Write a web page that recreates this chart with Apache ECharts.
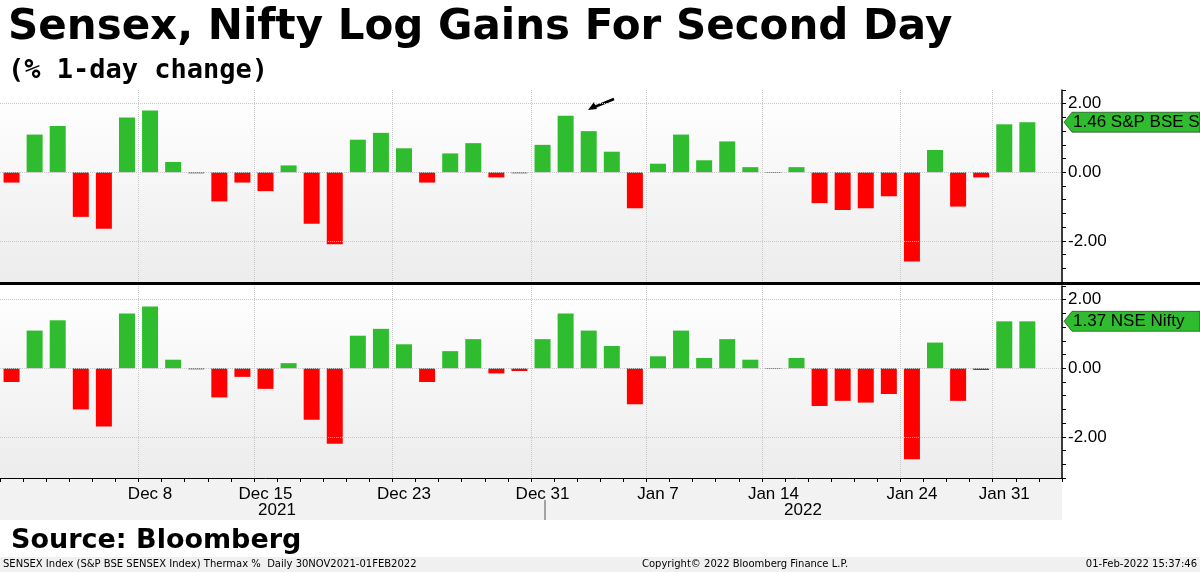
<!DOCTYPE html>
<html><head><meta charset="utf-8">
<script src="https://cdn.jsdelivr.net/npm/echarts@6/dist/echarts.min.js"></script>
<style>body{margin:0;background:#fff}#c{width:1200px;height:572px}</style>
</head><body><div id="c"></div>
<script>
const dates = ['Nov 30','Dec 1','Dec 2','Dec 3','Dec 6','Dec 7','Dec 8','Dec 9','Dec 10','Dec 13','Dec 14','Dec 15','Dec 16','Dec 17','Dec 20','Dec 21','Dec 22','Dec 23','Dec 24','Dec 27','Dec 28','Dec 29','Dec 30','Dec 31','Jan 3','Jan 4','Jan 5','Jan 6','Jan 7','Jan 10','Jan 11','Jan 12','Jan 13','Jan 14','Jan 17','Jan 18','Jan 19','Jan 20','Jan 21','Jan 24','Jan 25','Jan 27','Jan 28','Jan 31','Feb 1'];
const sensex = [-0.3,1.1,1.35,-1.3,-1.65,1.6,1.8,0.3,-0.03,-0.85,-0.3,-0.55,0.2,-1.5,-2.1,0.95,1.15,0.7,-0.3,0.55,0.85,-0.15,-0.03,0.8,1.65,1.2,0.6,-1.05,0.25,1.1,0.35,0.9,0.15,-0.02,0.15,-0.9,-1.1,-1.05,-0.7,-2.6,0.65,-1.0,-0.15,1.4,1.46];
const nifty = [-0.4,1.1,1.4,-1.2,-1.7,1.6,1.8,0.25,-0.03,-0.85,-0.25,-0.6,0.15,-1.5,-2.2,0.95,1.15,0.7,-0.4,0.5,0.85,-0.15,-0.08,0.85,1.6,1.1,0.65,-1.05,0.35,1.1,0.3,0.85,0.25,-0.02,0.3,-1.1,-0.95,-1.0,-0.75,-2.65,0.75,-0.95,-0.05,1.37,1.37];
const shownLabels = ['Dec 8','Dec 15','Dec 23','Dec 31','Jan 7','Jan 14','Jan 24','Jan 31'];
const yTicks = [-2, 0, 2];

const cats = dates.concat(['']);
const GREEN = '#2fbd2f', RED = '#ff0000';
const showIdx = (i) => shownLabels.includes(cats[i]);

const bg = {type:'linear',x:0,y:0,x2:0,y2:1,colorStops:[{offset:0,color:'#ffffff'},{offset:1,color:'#ececec'}]};

const xAxis = (gi, labels) => ({
  type:'category', gridIndex:gi, data:cats, position:'bottom',
  axisLine:{show:labels, onZero:false, lineStyle:{color:'#000'}},
  axisTick:{show:labels, interval:0, length:4, lineStyle:{color:'#000'}},
  axisLabel:{show:labels, interval:(i)=>showIdx(i), color:'#000', fontSize:17, fontFamily:'Liberation Sans', margin:8},
  splitLine:{show:true, interval:(i)=>showIdx(i), lineStyle:{color:'#c8c8c8', type:'dotted'}}
});
const yAxis = (gi) => ({
  type:'value', gridIndex:gi, position:'right', min:-3.2, max:2.4, interval:0.4,
  axisLine:{show:true, lineStyle:{color:'#000', width:1.5}},
  axisTick:{show:true, length:4, lineStyle:{color:'#000'}},
  axisLabel:{color:'#000', fontSize:17, fontFamily:'Liberation Sans', margin:6,
    formatter:(v)=> yTicks.some(t=>Math.abs(t-v)<1e-6) ? v.toFixed(2) : ''},
  splitLine:{show:false}
});
const barSeries = (vals, gi) => ({
  type:'bar', xAxisIndex:gi, yAxisIndex:gi, barWidth:16,
  data: vals.map(v => ({value:v, itemStyle:{color: v >= 0 ? GREEN : RED}})),
  markLine:{silent:true, symbol:'none', label:{show:false},
    lineStyle:{color:'#c8c8c8', type:'dotted', width:1},
    data: yTicks.map(t => ({yAxis:t}))}
});

const chart = echarts.init(document.getElementById('c'));
chart.setOption({
  animation:false,
  backgroundColor:'#fff',
  title:[
    {text:'Sensex, Nifty Log Gains For Second Day', left:3, top:2, textStyle:{fontSize:42, fontWeight:'bold', fontFamily:'DejaVu Sans', color:'#000'}},
    {text:'(% 1-day change)', left:3, top:52, textStyle:{fontSize:27, fontWeight:'bold', fontFamily:'DejaVu Sans Mono', color:'#000'}},
    {text:'Source: Bloomberg', left:6, top:522, textStyle:{fontSize:27, fontWeight:'bold', fontFamily:'DejaVu Sans', color:'#000'}}
  ],
  grid:[
    {left:-3.3, right:138, top:90, height:192, show:true, backgroundColor:bg, borderWidth:0},
    {left:-3.3, right:138, top:286, height:192, show:true, backgroundColor:bg, borderWidth:0}
  ],
  xAxis:[xAxis(0,false), xAxis(1,true)],
  yAxis:[yAxis(0), yAxis(1)],
  series:[barSeries(sensex,0), barSeries(nifty,1)]
});

// annotations
const tag = (gi, val, text) => {
  const p = chart.convertToPixel({gridIndex:gi}, [0, val]);
  const x = 1064, y = p[1];
  return {type:'group', children:[
    {type:'polygon', shape:{points:[[x,y],[x+8,y-10],[1200,y-10],[1200,y+10],[x+8,y+10]]}, style:{fill:GREEN, stroke:'#000', lineWidth:0.5}},
    {type:'text', x:x+9, y:y, style:{text:text, fontSize:17, fontFamily:'Liberation Sans', fill:'#000', verticalAlign:'middle'}}
  ]};
};
chart.setOption({graphic:[
  {type:'rect', shape:{x:0,y:478,width:1062,height:42}, style:{fill:'#f2f2f2'}, z:-1},
  {type:'rect', shape:{x:0,y:282,width:1200,height:3}, style:{fill:'#000'}},
  {type:'text', x:277, y:502, style:{text:'2021', fontSize:17, fontFamily:'Liberation Sans', fill:'#000', align:'center'}},
  {type:'text', x:803, y:502, style:{text:'2022', fontSize:17, fontFamily:'Liberation Sans', fill:'#000', align:'center'}},
  {type:'line', shape:{x1:545,y1:500,x2:545,y2:520}, style:{stroke:'#555', lineWidth:1}},
  {type:'line', shape:{x1:614,y1:99,x2:592,y2:108}, style:{stroke:'#000', lineWidth:2.5}},
  {type:'polygon', shape:{points:[[588,110],[594,102],[597,109]]}, style:{fill:'#000'}},
  tag(0, sensex[sensex.length-1], sensex[sensex.length-1].toFixed(2)+' S&P BSE S'),
  tag(1, nifty[nifty.length-1], nifty[nifty.length-1].toFixed(2)+' NSE Nifty'),
  {type:'rect', shape:{x:0,y:557,width:1200,height:15}, style:{fill:'#f0f0f0'}},
  {type:'text', x:3, y:559, style:{text:'SENSEX Index (S&P BSE SENSEX Index) Thermax %  Daily 30NOV2021-01FEB2022', fontSize:10, fontFamily:'DejaVu Sans', fill:'#000'}},
  {type:'text', x:642, y:559, style:{text:'Copyright© 2022 Bloomberg Finance L.P.', fontSize:10, fontFamily:'DejaVu Sans', fill:'#000'}},
  {type:'text', x:1197, y:559, style:{text:'01-Feb-2022 15:37:46', fontSize:10, fontFamily:'DejaVu Sans', fill:'#000', align:'right'}}
]});
</script></body></html>
